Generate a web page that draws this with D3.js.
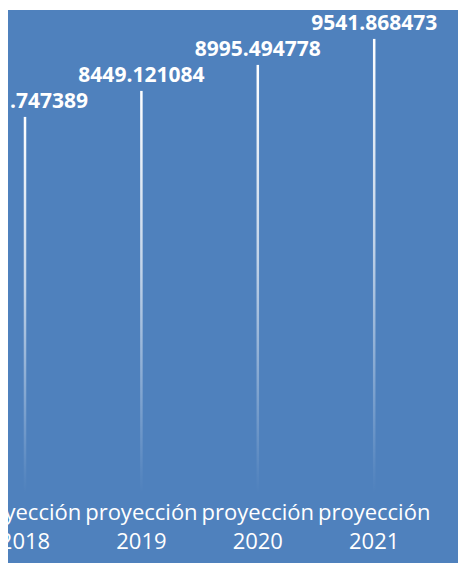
<!DOCTYPE html>
<html>
<head>
<meta charset="utf-8">
<script src="https://cdn.jsdelivr.net/npm/d3@7"></script>
<style>
  html, body { margin: 0; padding: 0; background: #fff; }
  svg { display: block; }
</style>
</head>
<body>
<svg id="chart" width="458" height="563"></svg>
<script>
// data
var categories = ["proyección 2018", "proyección 2019", "proyección 2020", "proyección 2021"];
var values = [7902.747389, 8449.121084, 8995.494778, 9541.868473];
var valueLabels = ["7902.747389", "8449.121084", "8995.494778", "9541.868473"];

var width = 458, height = 563;
var svg = d3.select("#chart");

var defs = svg.append("defs");
defs.append("clipPath").attr("id", "area")
  .append("rect").attr("x", 8).attr("y", 10).attr("width", 450).attr("height", 553);
// labels lose the glyph that is cut at the left edge
defs.append("clipPath").attr("id", "labelArea")
  .append("rect").attr("x", 10).attr("y", 10).attr("width", 448).attr("height", 553);

var grad = defs.append("linearGradient")
  .attr("id", "fade").attr("x1", 0).attr("y1", 0).attr("x2", 0).attr("y2", 1);
grad.append("stop").attr("offset", "0%").attr("stop-color", "#fff").attr("stop-opacity", 1);
grad.append("stop").attr("offset", "45%").attr("stop-color", "#fff").attr("stop-opacity", 0.65);
grad.append("stop").attr("offset", "95%").attr("stop-color", "#fff").attr("stop-opacity", 0.05);
grad.append("stop").attr("offset", "100%").attr("stop-color", "#fff").attr("stop-opacity", 0);

var g = svg.append("g").attr("clip-path", "url(#area)");

g.append("rect")
  .attr("x", 8).attr("y", 10)
  .attr("width", 450).attr("height", 553)
  .attr("fill", "#4f81bd");

var x = d3.scaleBand()
  .domain(categories)
  .range([-33.2, 432.4])
  .padding(0);

var y = d3.scaleLinear()
  .domain([0, 10000])
  .range([493, 17.1]);

var barW = 2.5;

g.selectAll("rect.bar")
  .data(values)
  .enter()
  .append("rect")
    .attr("class", "bar")
    .attr("x", (d, i) => x(categories[i]) + x.bandwidth() / 2 - barW / 2)
    .attr("y", d => y(d))
    .attr("width", barW)
    .attr("height", d => y(0) - y(d))
    .attr("fill", "url(#fade)");

g.append("g").attr("clip-path", "url(#labelArea)")
  .selectAll("text.val")
  .data(values)
  .enter()
  .append("text")
    .attr("class", "val")
    .attr("x", (d, i) => x(categories[i]) + x.bandwidth() / 2)
    .attr("y", d => y(d) - 9)
    .attr("text-anchor", "middle")
    .attr("fill", "#fff")
    .style("font-family", "'Open Sans', sans-serif")
    .style("font-weight", "700")
    .style("font-size", "21px")
    .text((d, i) => valueLabels[i]);

// category labels, two lines each
var cat = g.selectAll("text.cat")
  .data(categories)
  .enter()
  .append("text")
    .attr("class", "cat")
    .attr("text-anchor", "middle")
    .attr("fill", "#fff")
    .style("font-family", "'Open Sans', sans-serif")
    .style("font-size", "22px");

cat.append("tspan")
  .attr("x", d => x(d) + x.bandwidth() / 2)
  .attr("y", 520)
  .text(d => d.split(" ")[0]);
cat.append("tspan")
  .attr("x", d => x(d) + x.bandwidth() / 2)
  .attr("y", 549)
  .text(d => d.split(" ")[1]);
</script>
</body>
</html>
